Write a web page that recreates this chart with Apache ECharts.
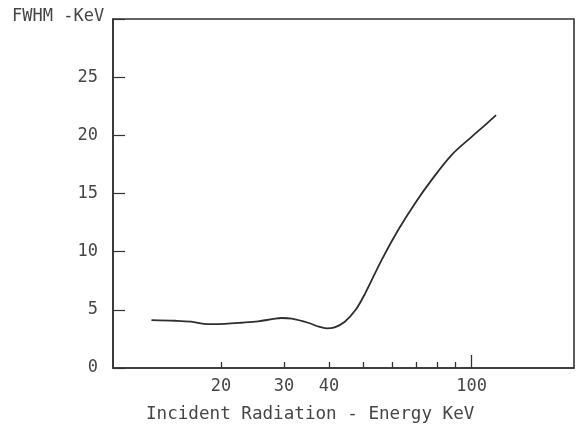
<!DOCTYPE html>
<html>
<head>
<meta charset="utf-8">
<style>
  html, body { margin: 0; padding: 0; background: #ffffff; }
  #chart { width: 577px; height: 425px; }
</style>
<script src="https://cdn.jsdelivr.net/npm/echarts@6/dist/echarts.min.js"></script>
</head>
<body>
<div id="chart"></div>
<script>
// Detector resolution (FWHM) versus incident photon energy
const energyKeV = [12.8, 14.9, 16.5, 18.4, 20.5, 22.8, 25.4, 28, 29.5, 31.5, 35.0, 37.5, 39.4, 41.5, 44.3, 47.5, 50.5, 56.1, 62.4, 69.5, 77.3, 87.9, 100, 109, 117];
const fwhmKeV   = [4.12, 4.06, 3.98, 3.78, 3.80, 3.89, 4.01, 4.22, 4.30, 4.24, 3.89, 3.55, 3.41, 3.50, 3.98, 5.0, 6.42, 9.28, 11.86, 14.15, 16.15, 18.30, 19.87, 20.88, 21.74];

// Axis tick positions and labels
const xTickValues  = [20, 30, 40, 50, 60, 70, 80, 90];
const xLabelValues = [20, 30, 40, 100];
const xMajorTick   = [100];
const yMin = 0, yMax = 30, yStep = 5;

const FONT = '"DejaVu Sans Mono", monospace';
const INK = '#333333';
const TEXT = '#464646';

const chart = echarts.init(document.getElementById('chart'), null, { renderer: 'canvas' });

chart.setOption({
  animation: false,
  backgroundColor: '#ffffff',
  title: {
    text: 'FWHM -KeV',
    left: 12,
    top: 8,
    padding: 0,
    textStyle: { fontFamily: FONT, fontSize: 17, fontWeight: 'normal', color: TEXT }
  },
  grid: { left: 113, top: 19, right: 3, bottom: 57, show: true, borderColor: INK, borderWidth: 1.6, backgroundColor: 'transparent' },
  xAxis: [
    {
      type: 'log',
      logBase: 10,
      min: 10,
      max: 193,
      axisLine: { show: true, lineStyle: { color: INK, width: 1.6 } },
      splitLine: { show: false },
      minorTick: { show: false },
      axisTick: { show: true, inside: true, length: 6, customValues: xTickValues, lineStyle: { color: INK, width: 1.3 } },
      axisLabel: {
        show: true,
        customValues: xLabelValues,
        margin: 10,
        fontFamily: FONT,
        fontSize: 17,
        color: TEXT,
        formatter: v => String(Math.round(v))
      }
    },
    {
      // longer decade tick at 100
      type: 'log',
      logBase: 10,
      min: 10,
      max: 193,
      position: 'bottom',
      axisLine: { show: false },
      splitLine: { show: false },
      axisTick: { show: true, inside: true, length: 13, customValues: xMajorTick, lineStyle: { color: INK, width: 1.3 } },
      axisLabel: { show: false }
    }
  ],
  yAxis: {
    type: 'value',
    min: yMin,
    max: yMax,
    interval: yStep,
    axisLine: { show: true, lineStyle: { color: INK, width: 1.6 } },
    splitLine: { show: false },
    axisTick: { show: true, inside: true, length: 12, lineStyle: { color: INK, width: 1.2 } },
    axisLabel: {
      margin: 15,
      fontFamily: FONT,
      fontSize: 17,
      color: TEXT,
      formatter: v => (v === yMax ? '' : String(v))
    }
  },
  graphic: [
    {
      type: 'text',
      left: 146,
      top: 405,
      style: {
        text: 'Incident Radiation - Energy KeV',
        fontFamily: FONT,
        fontSize: 17.6,
        fill: TEXT
      }
    }
  ],
  series: [
    {
      type: 'line',
      xAxisIndex: 0,
      data: energyKeV.map((e, i) => [e, fwhmKeV[i]]),
      smooth: 0.35,
      showSymbol: false,
      lineStyle: { color: '#2e2e2e', width: 1.8 }
    }
  ]
});
</script>
</body>
</html>
